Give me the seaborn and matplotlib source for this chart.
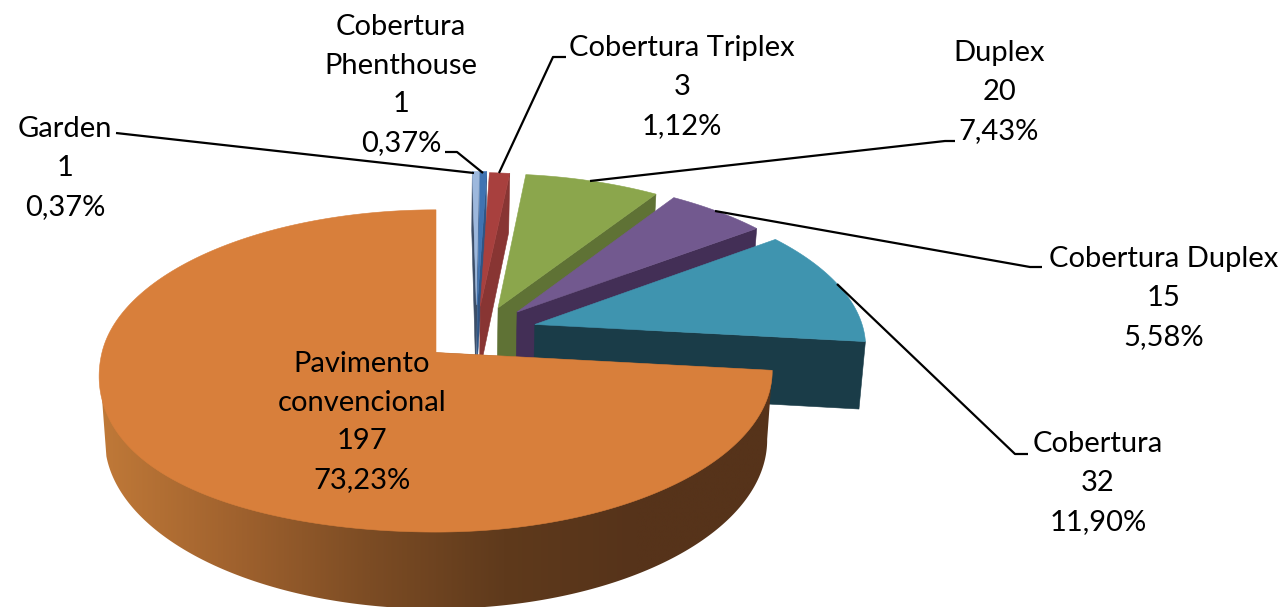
import numpy as np
import matplotlib
matplotlib.use("Agg")
import matplotlib.pyplot as plt
from matplotlib.patches import Polygon
import seaborn as sns

# ---- data ----
categories = ["Garden", "Cobertura\nPhenthouse", "Cobertura Triplex", "Duplex",
              "Cobertura Duplex", "Cobertura", "Pavimento\nconvencional"]
counts = [1, 1, 3, 20, 15, 32, 197]
percent_labels = ["0,37%", "0,37%", "1,12%", "7,43%", "5,58%", "11,90%", "73,23%"]

# ---- style ----
top_colors = ["#9DB8DD", "#3F73B2", "#A8403E", "#8BA64C", "#72598F", "#3F94AF", "#D87F3B"]
wall_colors = ["#3C4E68", "#2F5585", "#883533", "#5F7235", "#432F56", "#1A3C48", "#5A3317"]
explode = [(.125, .31), (.128, .31), (.137, .30), (.192, .29), (.25, .262), (.302, .18), (0, 0)]
label_pos = [(65, 167), (401, 84), (682, 86), (999, 91), (1164, 297), (1098, 482), (362, 421)]
leaders = [
    [(116, 133), (474, 173)],
    [(445, 152), (457, 152), (483, 173)],
    [(566, 57), (553, 57), (499, 173)],
    [(955, 141), (945, 141), (590, 181)],
    [(1042, 267), (1030, 267), (715, 211)],
    [(1028, 454), (1015, 454), (837, 284)],
]

sns.set_theme(style="white")
plt.rcParams["font.family"] = ["Lato", "DejaVu Sans"]

fig = plt.figure(figsize=(12.85, 6.07), dpi=100)
ax = fig.add_axes([0, 0, 1, 1])
ax.axis("off")

# projection of the pie disc
CX, CY, RX, RY, K, DEPTH, SHRINK, BULGE = 436, 352.5, 334, 159, .1145, 68, .985, 40


def project(x, y, low=False):
    s = 1 / (1 + K * y)
    if low:
        return CX + RX * x * s * SHRINK, CY - RY * y * s + DEPTH * s
    return CX + RX * x * s - BULGE * max(0, -x) * max(0, -y) ** 2, CY - RY * y * s


def edge(off, a0, a1, low=False):
    th = np.linspace(a0, a1, max(2, int(np.degrees(a1 - a0) * 3)))
    return [project(off[0] + np.sin(t), off[1] + np.cos(t), low) for t in th]


def wall(off, a, color, z):
    rim = (off[0] + np.sin(a), off[1] + np.cos(a))
    pts = [project(*off), project(*rim), project(*rim, low=True), project(*off, low=True)]
    ax.add_patch(Polygon(pts, closed=True, fc=color, ec=color, lw=.4, zorder=z))


angles = np.concatenate([[0], np.cumsum(counts)]) / sum(counts) * 2 * np.pi

# rim gradient of the largest slice, from its light left side to its dark right side
ramp = sns.blend_palette(["#C07938", "#A0622E", "#7C4C24", "#5F3A1C", "#56331A", "#56331A"], 512)
gradient = np.array(ramp)[None, :, :]

for i in range(len(counts)):
    a0, a1 = angles[i], angles[i + 1]
    off = explode[i]
    z = 2 + i * 3
    if i == len(counts) - 1:
        # outline of the visible rim; the inner part is covered by the top face
        a_low, a_top = 1.433 * np.pi, 1.472 * np.pi
        rim = (edge(off, a0, a_low, True)
               + [project(np.sin(a_top), np.cos(a_top)), project(*off),
                  project(np.sin(a0), np.cos(a0))])
        poly = Polygon(rim, closed=True, fc="none", ec="none", zorder=z)
        ax.add_patch(poly)
        im = ax.imshow(gradient, extent=(100, 772, 607, 300), aspect="auto", zorder=z,
                       interpolation="bilinear")
        im.set_clip_path(poly)
    else:
        if i == 0:
            wall(off, a0, wall_colors[i], z)
        wall(off, a1, wall_colors[i], z)
    face = [project(*off)] + edge(off, a0, a1)
    ax.add_patch(Polygon(face, closed=True, fc=top_colors[i], ec=top_colors[i], lw=.4, zorder=z + 1))

for path in leaders:
    xs, ys = zip(*path)
    ax.plot(xs, ys, color="black", lw=1.6, zorder=40, solid_capstyle="butt")

for name, n, pct, (x, y) in zip(categories, counts, percent_labels, label_pos):
    ax.text(x, y + 1, f"{name}\n{n}\n{pct}", ha="center", va="center", ma="center",
            fontsize=21, linespacing=1.6, color="black", zorder=50)

ax.set_xlim(0, 1285)
ax.set_ylim(607, 0)
fig.savefig("out.png", dpi=100, facecolor="white")
